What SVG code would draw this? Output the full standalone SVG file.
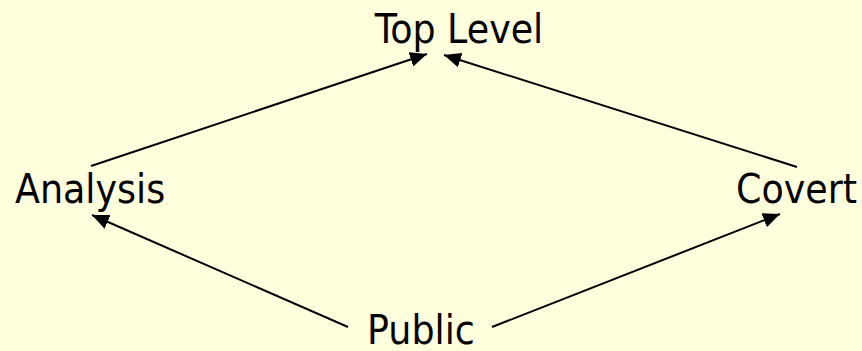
<svg xmlns="http://www.w3.org/2000/svg" width="862" height="351" viewBox="0 0 862 351">
  <style>
    .lbl { font-family: "DejaVu Sans Condensed", "DejaVu Sans", sans-serif; font-stretch: condensed; font-size: 40.5px; fill: #000; }
    .edge { stroke: #000; stroke-width: 2; fill: none; marker-end: url(#head); }
  </style>
  <defs>
    <marker id="head" markerUnits="userSpaceOnUse" markerWidth="18" markerHeight="15" refX="17" refY="7.5" orient="auto">
      <path d="M0,0 L17,7.5 L0,15 Z" fill="#000"/>
    </marker>
  </defs>
  <rect width="862" height="351" fill="#FFFFDD"/>

  <g id="connectors">
    <line class="edge" x1="91" y1="166" x2="427" y2="54"/>
    <line class="edge" x1="797" y1="167" x2="444" y2="55"/>
    <line class="edge" x1="348" y1="327" x2="92" y2="215"/>
    <line class="edge" x1="492" y1="327" x2="780" y2="214"/>
  </g>

  <g id="top-level"><text class="lbl" x="459" y="43" text-anchor="middle">Top Level</text></g>
  <g id="analysis"><text class="lbl" x="15" y="203">Analysis</text></g>
  <g id="covert"><text class="lbl" x="736" y="203">Covert</text></g>
  <g id="public"><text class="lbl" x="421" y="344" text-anchor="middle">Public</text></g>
</svg>
